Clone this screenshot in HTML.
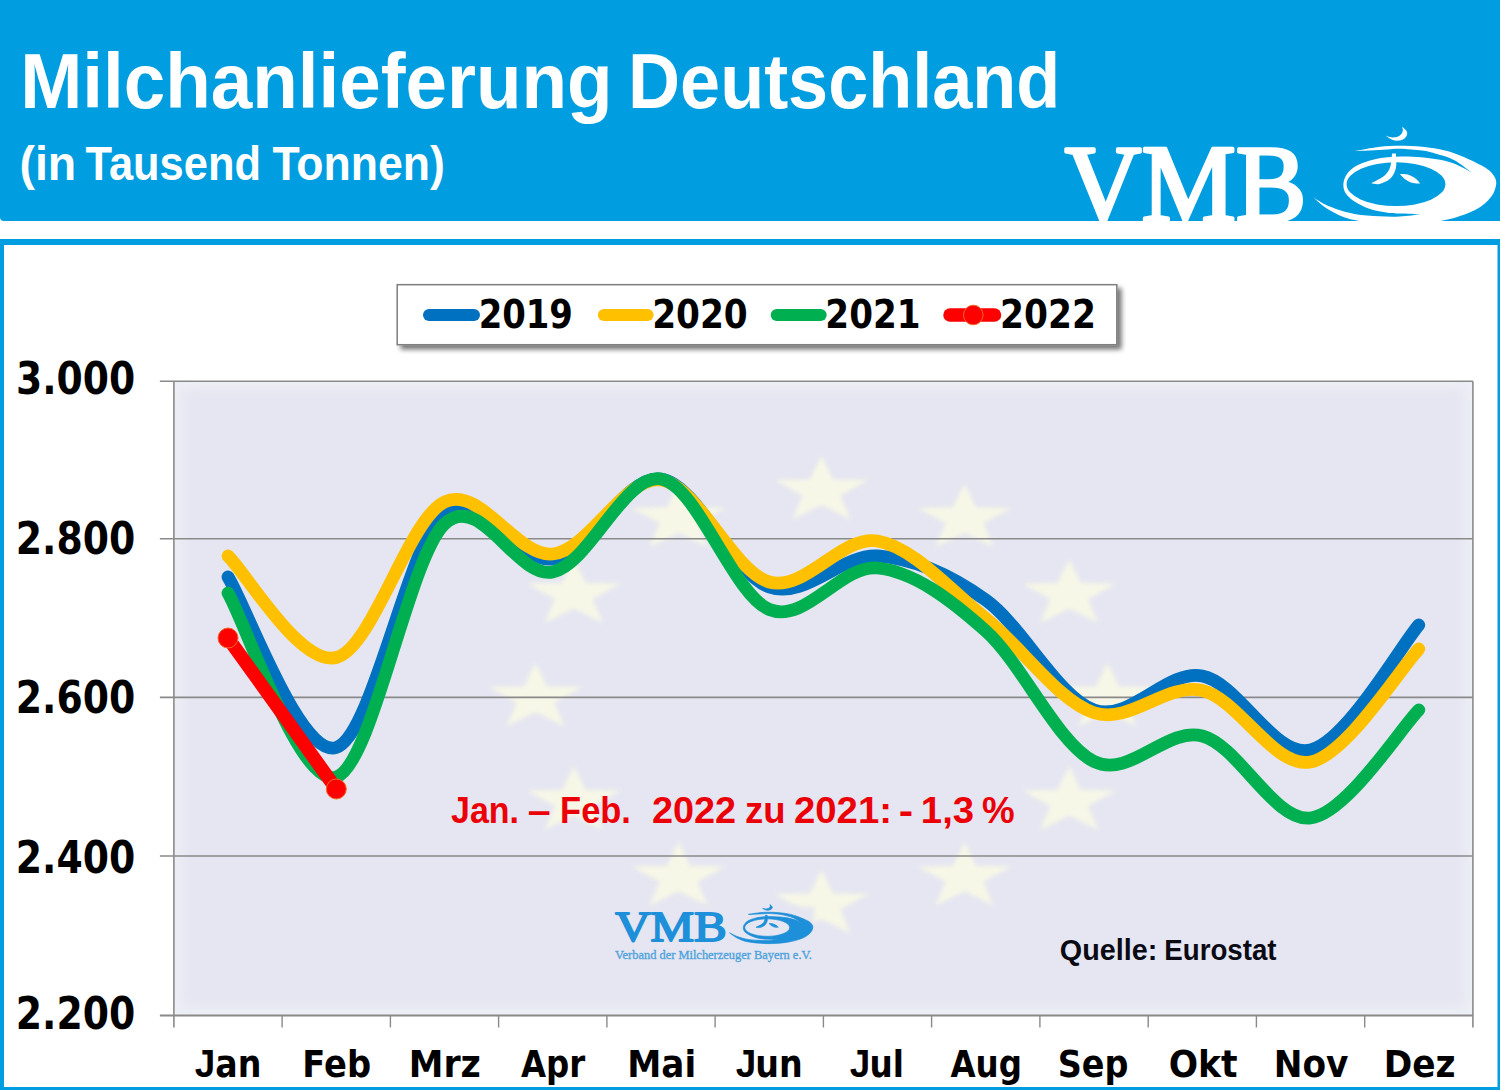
<!DOCTYPE html>
<html lang="de"><head><meta charset="utf-8"><title>Milchanlieferung Deutschland</title>
<style>html,body{margin:0;padding:0;background:#fff;}body{width:1500px;height:1090px;overflow:hidden;}svg{display:block;}text{white-space:pre;}</style>
</head><body>
<svg width="1500" height="1090" viewBox="0 0 1500 1090">
<defs>
<filter id="sh" x="-5%" y="-20%" width="112%" height="150%"><feGaussianBlur in="SourceAlpha" stdDeviation="2.5"/><feOffset dx="4" dy="4"/><feComponentTransfer><feFuncA type="linear" slope="0.55"/></feComponentTransfer><feMerge><feMergeNode/><feMergeNode in="SourceGraphic"/></feMerge></filter>
<filter id="soft" x="-10%" y="-10%" width="120%" height="120%"><feGaussianBlur stdDeviation="2.2"/></filter>
<filter id="edge" x="-3%" y="-5%" width="106%" height="110%"><feGaussianBlur stdDeviation="6"/></filter>
<clipPath id="hdrclip"><rect x="0" y="0" width="1500" height="221"/></clipPath>
<clipPath id="plotclip"><rect x="173.9" y="381.2" width="1299" height="634.3"/></clipPath>
</defs>
<rect x="0" y="0" width="1500" height="1090" fill="#fff"/>
<path d="M0,0 H1500 V221 H4 Q0,221 0,217 Z" fill="#009EE0"/>
<text y="108" font-family="'Liberation Sans','DejaVu Sans',sans-serif" font-weight="700" font-size="77" fill="#fff"><tspan x="20.16" textLength="592.49" lengthAdjust="spacingAndGlyphs">Milchanlieferung</tspan> <tspan x="628.12" textLength="432.12" lengthAdjust="spacingAndGlyphs">Deutschland</tspan></text>
<text y="180" font-family="'Liberation Sans','DejaVu Sans',sans-serif" font-weight="700" font-size="48" fill="#fff"><tspan x="19.47" textLength="56.69" lengthAdjust="spacingAndGlyphs">(in</tspan> <tspan x="85.60" textLength="175.35" lengthAdjust="spacingAndGlyphs">Tausend</tspan> <tspan x="272.47" textLength="172.25" lengthAdjust="spacingAndGlyphs">Tonnen)</tspan></text>
<g clip-path="url(#hdrclip)">
<text x="1064.79" y="221" font-family="'Liberation Serif','DejaVu Serif',serif" font-weight="400" font-size="111" fill="#fff" textLength="241.70" lengthAdjust="spacingAndGlyphs" stroke="#fff" stroke-width="3.5" stroke-linejoin="round">VMB</text>
</g>
<g clip-path="url(#hdrclip)"><g fill="#fff"><path fill-rule="evenodd" d="M1354.5,151.1 C1357.9,150.5 1368.2,148.4 1375,147.5 C1381.8,146.6 1387.1,145.9 1395,145.8 C1402.9,145.7 1413.9,145.9 1422.2,146.7 C1430.5,147.5 1438,148.8 1445,150.5 C1452,152.2 1457.7,154.3 1464.4,157.2 C1471.2,160.1 1480.6,164.7 1485.5,167.8 C1490.4,170.9 1492.2,173.2 1494,176 C1495.8,178.8 1496.6,181.1 1496.1,184.7 C1495.6,188.2 1494.3,193.1 1490.8,197.3 C1487.3,201.5 1483,206.1 1475,210 C1467,213.9 1455.5,218.1 1443,220.5 C1430.5,222.9 1414.8,224.6 1400,224.5 C1385.2,224.4 1366.2,222.5 1354.5,220.1 C1342.8,217.7 1336.7,214 1329.8,210.2 C1322.9,206.4 1316,199.5 1313.3,197.4 C1316,198.9 1322.9,203.7 1329.8,206.5 C1336.7,209.3 1346.2,212.4 1354.5,214 C1362.8,215.6 1371.7,215.9 1379.3,216.3 C1386.9,216.7 1393.1,216.8 1400,216.5 C1406.9,216.2 1417.2,214.7 1420.6,214.3 C1417.2,214.2 1405.5,213.8 1400,213.5 C1394.5,213.2 1392.6,213.4 1387.6,212.7 C1382.6,211.9 1375.5,210.9 1370,209 C1364.5,207.1 1358.6,204.2 1354.5,201.5 C1350.4,198.8 1347.3,195.9 1345.5,193 C1343.7,190.1 1343.2,187 1343.4,183.8 C1343.7,180.6 1344.9,177 1347,174 C1349.1,171 1352.2,168.2 1356,166 C1359.8,163.8 1364.7,161.9 1370,160.5 C1375.3,159.1 1380.6,157.9 1387.6,157.3 C1394.5,156.7 1403.8,156.4 1411.7,156.7 C1419.6,157 1428,157.9 1435,159 C1442,160.1 1447.8,161.2 1453.9,163.5 C1460,165.8 1468.8,171 1471.8,172.5 C1468.8,170.4 1460,163.1 1453.9,159.9 C1447.8,156.7 1440.3,155.1 1435,153.5 C1429.7,151.9 1428,151.4 1422.2,150.6 C1416.4,149.8 1405.8,149 1400,148.8 C1394.2,148.6 1392.6,149.2 1387.6,149.5 C1382.6,149.8 1375.5,150.3 1370,150.6 C1364.5,150.9 1357.1,151 1354.5,151.1 Z M1346.6,184.2 A49.4,21.9 0 1,0 1445.4,184.2 A49.4,21.9 0 1,0 1346.6,184.2 Z"/><path d="M1395.9,153.4 C1396,155.2 1396.5,161.5 1396.3,164.4 C1396.1,167.3 1395.8,168.7 1395,170.9 C1394.2,173.1 1392.8,175.6 1391.3,177.4 C1389.8,179.2 1388,180.5 1385.9,181.6 C1383.8,182.7 1380.9,183.9 1378.5,184.2 C1376.1,184.5 1372.5,183.5 1371.3,183.3 C1372.4,182.7 1375.7,181 1377.8,179.8 C1379.9,178.6 1382.3,177.4 1384.1,175.9 C1385.9,174.4 1387.4,172.6 1388.5,170.7 C1389.6,168.8 1390.2,167.3 1390.8,164.4 C1391.4,161.5 1391.9,155.2 1392.1,153.4 Z"/><path d="M1399.9,173.9 C1401.2,174 1405.1,173.8 1407.7,174.6 C1410.3,175.4 1413.4,177 1415.5,178.5 C1417.6,180 1419.4,182.6 1420.2,183.4 C1419,183.3 1415.3,183.7 1412.9,183.1 C1410.5,182.5 1408,181.3 1405.8,179.8 C1403.6,178.3 1400.9,174.9 1399.9,173.9 Z"/><path d="M1401.9,126.4 C1402.6,127.1 1405.3,129.2 1406.2,130.6 C1407.1,131.9 1407.4,133.2 1407.1,134.5 C1406.8,135.8 1405.9,137.4 1404.5,138.4 C1403.1,139.4 1400.7,140.4 1398.6,140.6 C1396.5,140.8 1394.2,140.5 1392.1,139.7 C1390,138.9 1386.9,136.5 1385.9,135.8 C1386.9,136.1 1390.1,137.3 1392.1,137.4 C1394.1,137.5 1396.4,137.2 1398,136.5 C1399.6,135.8 1401.1,134.3 1401.9,133.2 C1402.7,132 1402.8,130.7 1402.8,129.6 C1402.8,128.5 1402.1,126.9 1401.9,126.4 Z"/></g></g>
<rect x="0" y="239" width="1500" height="6" fill="#009EE0"/>
<rect x="0" y="239" width="4" height="851" fill="#009EE0"/>
<rect x="1497.5" y="239" width="2.5" height="851" fill="#009EE0"/>
<rect x="0" y="1087" width="1500" height="3" fill="#009EE0"/>
<rect x="173.9" y="381.2" width="1299" height="634.3" fill="#EEF0F6"/>
<g clip-path="url(#plotclip)"><rect x="180.9" y="388.2" width="1285" height="620.3" fill="#E5E6F1" filter="url(#edge)"/></g>
<g fill="#FAFAE5" opacity="0.85" filter="url(#soft)" clip-path="url(#plotclip)"><polygon points="821.5,455.8 833.1,479.6 868.6,480.1 840.3,495.4 850.6,519.5 821.5,505.1 792.4,519.5 802.7,495.4 774.4,480.1 809.9,479.6"/><polygon points="964.5,483.5 976.1,507.3 1011.6,507.9 983.3,523.1 993.6,547.2 964.5,532.8 935.4,547.2 945.7,523.1 917.4,507.9 952.9,507.3"/><polygon points="1069.2,559.3 1080.8,583.1 1116.3,583.6 1088,598.9 1098.3,623 1069.2,608.6 1040.1,623 1050.4,598.9 1022.1,583.6 1057.5,583.1"/><polygon points="1107.5,662.8 1119.1,686.6 1154.6,687.1 1126.3,702.4 1136.6,726.5 1107.5,712.1 1078.4,726.5 1088.7,702.4 1060.4,687.1 1095.9,686.6"/><polygon points="1069.2,766.3 1080.8,790.1 1116.3,790.6 1088,805.9 1098.3,830 1069.2,815.6 1040.1,830 1050.4,805.9 1022.1,790.6 1057.5,790.1"/><polygon points="964.5,842.1 976.1,865.9 1011.6,866.4 983.3,881.6 993.6,905.7 964.5,891.3 935.4,905.7 945.7,881.6 917.4,866.4 952.9,865.9"/><polygon points="821.5,869.8 833.1,893.6 868.6,894.1 840.3,909.4 850.6,933.5 821.5,919.1 792.4,933.5 802.7,909.4 774.4,894.1 809.9,893.6"/><polygon points="678.5,842.1 690.1,865.9 725.6,866.4 697.3,881.6 707.6,905.7 678.5,891.3 649.4,905.7 659.7,881.6 631.4,866.4 666.9,865.9"/><polygon points="573.8,766.3 585.5,790.1 620.9,790.6 592.6,805.9 602.9,830 573.8,815.6 544.7,830 555,805.9 526.7,790.6 562.2,790.1"/><polygon points="535.5,662.8 547.1,686.6 582.6,687.1 554.3,702.4 564.6,726.5 535.5,712.1 506.4,726.5 516.7,702.4 488.4,687.1 523.9,686.6"/><polygon points="573.8,559.3 585.5,583.1 620.9,583.6 592.6,598.9 602.9,623 573.8,608.6 544.7,623 555,598.9 526.7,583.6 562.2,583.1"/><polygon points="678.5,483.5 690.1,507.3 725.6,507.9 697.3,523.1 707.6,547.2 678.5,532.8 649.4,547.2 659.7,523.1 631.4,507.9 666.9,507.3"/></g>
<line x1="159.9" y1="381.2" x2="1472.9" y2="381.2" stroke="#8A8A8A" stroke-width="1.6"/>
<line x1="159.9" y1="538.7" x2="1472.9" y2="538.7" stroke="#8A8A8A" stroke-width="1.6"/>
<line x1="159.9" y1="697.4" x2="1472.9" y2="697.4" stroke="#8A8A8A" stroke-width="1.6"/>
<line x1="159.9" y1="856" x2="1472.9" y2="856" stroke="#8A8A8A" stroke-width="1.6"/>
<line x1="159.9" y1="1015.5" x2="1472.9" y2="1015.5" stroke="#8A8A8A" stroke-width="2"/>
<line x1="173.9" y1="381.2" x2="173.9" y2="1027.5" stroke="#8A8A8A" stroke-width="1.6"/>
<line x1="1472.9" y1="381.2" x2="1472.9" y2="1027.5" stroke="#8A8A8A" stroke-width="1.6"/>
<line x1="282.1" y1="1015.5" x2="282.1" y2="1027.5" stroke="#8A8A8A" stroke-width="1.4"/>
<line x1="390.4" y1="1015.5" x2="390.4" y2="1027.5" stroke="#8A8A8A" stroke-width="1.4"/>
<line x1="498.6" y1="1015.5" x2="498.6" y2="1027.5" stroke="#8A8A8A" stroke-width="1.4"/>
<line x1="606.9" y1="1015.5" x2="606.9" y2="1027.5" stroke="#8A8A8A" stroke-width="1.4"/>
<line x1="715.1" y1="1015.5" x2="715.1" y2="1027.5" stroke="#8A8A8A" stroke-width="1.4"/>
<line x1="823.4" y1="1015.5" x2="823.4" y2="1027.5" stroke="#8A8A8A" stroke-width="1.4"/>
<line x1="931.6" y1="1015.5" x2="931.6" y2="1027.5" stroke="#8A8A8A" stroke-width="1.4"/>
<line x1="1039.9" y1="1015.5" x2="1039.9" y2="1027.5" stroke="#8A8A8A" stroke-width="1.4"/>
<line x1="1148.2" y1="1015.5" x2="1148.2" y2="1027.5" stroke="#8A8A8A" stroke-width="1.4"/>
<line x1="1256.4" y1="1015.5" x2="1256.4" y2="1027.5" stroke="#8A8A8A" stroke-width="1.4"/>
<line x1="1364.7" y1="1015.5" x2="1364.7" y2="1027.5" stroke="#8A8A8A" stroke-width="1.4"/>
<text x="16.06" y="394.4" font-family="'DejaVu Sans','Liberation Sans',sans-serif" font-weight="700" font-size="44.5" fill="#000" textLength="119.24" lengthAdjust="spacingAndGlyphs">3.000</text>
<text x="15.80" y="553.9" font-family="'DejaVu Sans','Liberation Sans',sans-serif" font-weight="700" font-size="44.5" fill="#000" textLength="119.49" lengthAdjust="spacingAndGlyphs">2.800</text>
<text x="15.80" y="713.1" font-family="'DejaVu Sans','Liberation Sans',sans-serif" font-weight="700" font-size="44.5" fill="#000" textLength="119.49" lengthAdjust="spacingAndGlyphs">2.600</text>
<text x="15.80" y="872.6" font-family="'DejaVu Sans','Liberation Sans',sans-serif" font-weight="700" font-size="44.5" fill="#000" textLength="119.49" lengthAdjust="spacingAndGlyphs">2.400</text>
<text x="15.80" y="1028.8" font-family="'DejaVu Sans','Liberation Sans',sans-serif" font-weight="700" font-size="44.5" fill="#000" textLength="119.49" lengthAdjust="spacingAndGlyphs">2.200</text>
<text y="1076.8" font-weight="700" fill="#000"><tspan x="194.86" font-family="'Liberation Sans','DejaVu Sans',sans-serif" font-size="39" textLength="20.50" lengthAdjust="spacingAndGlyphs">J</tspan><tspan x="215.23" font-family="'DejaVu Sans','Liberation Sans',sans-serif" font-size="37.7" textLength="46.15" lengthAdjust="spacingAndGlyphs">an</tspan></text>
<text x="302.31" y="1076.8" font-family="'DejaVu Sans','Liberation Sans',sans-serif" font-weight="700" font-size="37.7" fill="#000" textLength="68.77" lengthAdjust="spacingAndGlyphs">Feb</text>
<text x="408.73" y="1076.8" font-family="'DejaVu Sans','Liberation Sans',sans-serif" font-weight="700" font-size="37.7" fill="#000" textLength="72.15" lengthAdjust="spacingAndGlyphs">Mrz</text>
<text x="521.00" y="1076.8" font-family="'DejaVu Sans','Liberation Sans',sans-serif" font-weight="700" font-size="37.7" fill="#000" textLength="64.27" lengthAdjust="spacingAndGlyphs">Apr</text>
<text x="627.27" y="1076.8" font-family="'DejaVu Sans','Liberation Sans',sans-serif" font-weight="700" font-size="37.7" fill="#000" textLength="68.92" lengthAdjust="spacingAndGlyphs">Mai</text>
<text y="1076.8" font-weight="700" fill="#000"><tspan x="735.86" font-family="'Liberation Sans','DejaVu Sans',sans-serif" font-size="39" textLength="20.50" lengthAdjust="spacingAndGlyphs">J</tspan><tspan x="755.35" font-family="'DejaVu Sans','Liberation Sans',sans-serif" font-size="37.7" textLength="47.41" lengthAdjust="spacingAndGlyphs">un</tspan></text>
<text y="1076.8" font-weight="700" fill="#000"><tspan x="849.86" font-family="'Liberation Sans','DejaVu Sans',sans-serif" font-size="39" textLength="20.50" lengthAdjust="spacingAndGlyphs">J</tspan><tspan x="869.40" font-family="'DejaVu Sans','Liberation Sans',sans-serif" font-size="37.7" textLength="34.49" lengthAdjust="spacingAndGlyphs">ul</tspan></text>
<text x="950.40" y="1076.8" font-family="'DejaVu Sans','Liberation Sans',sans-serif" font-weight="700" font-size="37.7" fill="#000" textLength="71.57" lengthAdjust="spacingAndGlyphs">Aug</text>
<text x="1057.74" y="1076.8" font-family="'DejaVu Sans','Liberation Sans',sans-serif" font-weight="700" font-size="37.7" fill="#000" textLength="70.76" lengthAdjust="spacingAndGlyphs">Sep</text>
<text x="1168.67" y="1076.8" font-family="'DejaVu Sans','Liberation Sans',sans-serif" font-weight="700" font-size="37.7" fill="#000" textLength="68.86" lengthAdjust="spacingAndGlyphs">Okt</text>
<text x="1273.67" y="1076.8" font-family="'DejaVu Sans','Liberation Sans',sans-serif" font-weight="700" font-size="37.7" fill="#000" textLength="74.75" lengthAdjust="spacingAndGlyphs">Nov</text>
<text x="1383.76" y="1076.8" font-family="'DejaVu Sans','Liberation Sans',sans-serif" font-weight="700" font-size="37.7" fill="#000" textLength="71.86" lengthAdjust="spacingAndGlyphs">Dez</text>
<rect x="612" y="907" width="202" height="56" fill="#E5E6F1" filter="url(#soft)"/>
<text x="615.17" y="941.4" font-family="'Liberation Serif','DejaVu Serif',serif" font-weight="400" font-size="43.2" fill="#1E8FD9" textLength="111.67" lengthAdjust="spacingAndGlyphs" stroke="#1E8FD9" stroke-width="1.8" stroke-linejoin="round">VMB</text>
<g><g transform="translate(131.9,854.2) scale(0.4551,0.3984)" fill="#1E8FD9" stroke="#1E8FD9" stroke-width="1.6" stroke-linejoin="round"><path fill-rule="evenodd" d="M1354.5,151.1 C1357.9,150.5 1368.2,148.4 1375,147.5 C1381.8,146.6 1387.1,145.9 1395,145.8 C1402.9,145.7 1413.9,145.9 1422.2,146.7 C1430.5,147.5 1438,148.8 1445,150.5 C1452,152.2 1457.7,154.3 1464.4,157.2 C1471.2,160.1 1480.6,164.7 1485.5,167.8 C1490.4,170.9 1492.2,173.2 1494,176 C1495.8,178.8 1496.6,181.1 1496.1,184.7 C1495.6,188.2 1494.3,193.1 1490.8,197.3 C1487.3,201.5 1483,206.1 1475,210 C1467,213.9 1455.5,218.1 1443,220.5 C1430.5,222.9 1414.8,224.6 1400,224.5 C1385.2,224.4 1366.2,222.5 1354.5,220.1 C1342.8,217.7 1336.7,214 1329.8,210.2 C1322.9,206.4 1316,199.5 1313.3,197.4 C1316,198.9 1322.9,203.7 1329.8,206.5 C1336.7,209.3 1346.2,212.4 1354.5,214 C1362.8,215.6 1371.7,215.9 1379.3,216.3 C1386.9,216.7 1393.1,216.8 1400,216.5 C1406.9,216.2 1417.2,214.7 1420.6,214.3 C1417.2,214.2 1405.5,213.8 1400,213.5 C1394.5,213.2 1392.6,213.4 1387.6,212.7 C1382.6,211.9 1375.5,210.9 1370,209 C1364.5,207.1 1358.6,204.2 1354.5,201.5 C1350.4,198.8 1347.3,195.9 1345.5,193 C1343.7,190.1 1343.2,187 1343.4,183.8 C1343.7,180.6 1344.9,177 1347,174 C1349.1,171 1352.2,168.2 1356,166 C1359.8,163.8 1364.7,161.9 1370,160.5 C1375.3,159.1 1380.6,157.9 1387.6,157.3 C1394.5,156.7 1403.8,156.4 1411.7,156.7 C1419.6,157 1428,157.9 1435,159 C1442,160.1 1447.8,161.2 1453.9,163.5 C1460,165.8 1468.8,171 1471.8,172.5 C1468.8,170.4 1460,163.1 1453.9,159.9 C1447.8,156.7 1440.3,155.1 1435,153.5 C1429.7,151.9 1428,151.4 1422.2,150.6 C1416.4,149.8 1405.8,149 1400,148.8 C1394.2,148.6 1392.6,149.2 1387.6,149.5 C1382.6,149.8 1375.5,150.3 1370,150.6 C1364.5,150.9 1357.1,151 1354.5,151.1 Z M1346.6,184.2 A49.4,21.9 0 1,0 1445.4,184.2 A49.4,21.9 0 1,0 1346.6,184.2 Z"/><path d="M1395.9,153.4 C1396,155.2 1396.5,161.5 1396.3,164.4 C1396.1,167.3 1395.8,168.7 1395,170.9 C1394.2,173.1 1392.8,175.6 1391.3,177.4 C1389.8,179.2 1388,180.5 1385.9,181.6 C1383.8,182.7 1380.9,183.9 1378.5,184.2 C1376.1,184.5 1372.5,183.5 1371.3,183.3 C1372.4,182.7 1375.7,181 1377.8,179.8 C1379.9,178.6 1382.3,177.4 1384.1,175.9 C1385.9,174.4 1387.4,172.6 1388.5,170.7 C1389.6,168.8 1390.2,167.3 1390.8,164.4 C1391.4,161.5 1391.9,155.2 1392.1,153.4 Z"/><path d="M1399.9,173.9 C1401.2,174 1405.1,173.8 1407.7,174.6 C1410.3,175.4 1413.4,177 1415.5,178.5 C1417.6,180 1419.4,182.6 1420.2,183.4 C1419,183.3 1415.3,183.7 1412.9,183.1 C1410.5,182.5 1408,181.3 1405.8,179.8 C1403.6,178.3 1400.9,174.9 1399.9,173.9 Z"/><path d="M1401.9,126.4 C1402.6,127.1 1405.3,129.2 1406.2,130.6 C1407.1,131.9 1407.4,133.2 1407.1,134.5 C1406.8,135.8 1405.9,137.4 1404.5,138.4 C1403.1,139.4 1400.7,140.4 1398.6,140.6 C1396.5,140.8 1394.2,140.5 1392.1,139.7 C1390,138.9 1386.9,136.5 1385.9,135.8 C1386.9,136.1 1390.1,137.3 1392.1,137.4 C1394.1,137.5 1396.4,137.2 1398,136.5 C1399.6,135.8 1401.1,134.3 1401.9,133.2 C1402.7,132 1402.8,130.7 1402.8,129.6 C1402.8,128.5 1402.1,126.9 1401.9,126.4 Z"/></g></g>
<text x="615.01" y="958.7" font-family="'Liberation Serif','DejaVu Serif',serif" font-weight="400" font-size="12.6" fill="#4FA3DD" textLength="196.97" lengthAdjust="spacingAndGlyphs" stroke="#4FA3DD" stroke-width="0.35">Verband der Milcherzeuger Bayern e.V.</text>
<path d="M228,577 C246.1,605.4 300.2,758.6 336.3,747.5 C372.4,736.4 408.4,541.9 444.5,510.5 C480.6,479.1 516.7,564.2 552.8,559 C588.9,553.8 624.9,474.3 661,479 C697.1,483.7 733.2,574.2 769.3,587 C805.4,599.8 841.4,553.8 877.5,556 C913.6,558.2 949.7,574.3 985.8,600 C1021.9,625.7 1057.9,697.3 1094,710 C1130.1,722.7 1166.2,669.3 1202.3,676 C1238.4,682.7 1274.4,758.5 1310.5,750 C1346.6,741.5 1400.7,645.8 1418.8,625" fill="none" stroke="#0070C0" stroke-width="12.8" stroke-linecap="round" stroke-linejoin="round"/>
<path d="M228,556 C246.1,572.9 300.2,666.5 336.3,657.5 C372.4,648.5 408.4,519.2 444.5,502 C480.6,484.8 516.7,557.7 552.8,554 C588.9,550.3 624.9,475.3 661,480 C697.1,484.7 733.2,571.8 769.3,582 C805.4,592.2 841.4,534.9 877.5,541 C913.6,547.1 949.7,589.9 985.8,618.5 C1021.9,647.1 1057.9,700.7 1094,712.7 C1130.1,724.7 1166.2,682.3 1202.3,690.5 C1238.4,698.7 1274.4,768.9 1310.5,762 C1346.6,755.1 1400.7,667.8 1418.8,649" fill="none" stroke="#FFC000" stroke-width="12.8" stroke-linecap="round" stroke-linejoin="round"/>
<path d="M228,593 C246.1,623.7 300.2,788.5 336.3,777 C372.4,765.5 408.4,558.2 444.5,524 C480.6,489.8 516.7,579.5 552.8,572 C588.9,564.5 624.9,472.8 661,479 C697.1,485.2 733.2,594.7 769.3,609.5 C805.4,624.3 841.4,564.4 877.5,568 C913.6,571.6 949.7,598.8 985.8,631 C1021.9,663.2 1057.9,744 1094,761.5 C1130.1,779 1166.2,726.6 1202.3,736 C1238.4,745.4 1274.4,822.3 1310.5,818 C1346.6,813.7 1400.7,728 1418.8,710" fill="none" stroke="#00B050" stroke-width="12.8" stroke-linecap="round" stroke-linejoin="round"/>
<line x1="228" y1="638" x2="336.3" y2="789" stroke="#FF0000" stroke-width="13.5" stroke-linecap="round"/>
<circle cx="228" cy="638" r="10" fill="#FF0000" stroke="#F0682A" stroke-width="1"/>
<circle cx="336.3" cy="789" r="10" fill="#FF0000" stroke="#F0682A" stroke-width="1"/>
<text y="822.7" font-family="'Liberation Sans','DejaVu Sans',sans-serif" font-weight="700" font-size="36" fill="#EC0008"><tspan x="451.06" textLength="67.87" lengthAdjust="spacingAndGlyphs">Jan.</tspan> <tspan x="527.86" textLength="22.92" lengthAdjust="spacingAndGlyphs">–</tspan> <tspan x="560.09" textLength="70.84" lengthAdjust="spacingAndGlyphs">Feb.</tspan>  <tspan x="651.95" textLength="84.20" lengthAdjust="spacingAndGlyphs">2022</tspan> <tspan x="744.99" textLength="40.54" lengthAdjust="spacingAndGlyphs">zu</tspan> <tspan x="793.94" textLength="98.04" lengthAdjust="spacingAndGlyphs">2021:</tspan> <tspan x="898.80" textLength="14.40" lengthAdjust="spacingAndGlyphs">-</tspan> <tspan x="920.87" textLength="53.24" lengthAdjust="spacingAndGlyphs">1,3</tspan> <tspan x="981.98" textLength="32.66" lengthAdjust="spacingAndGlyphs">%</tspan></text>
<text y="960.2" font-family="'Liberation Sans','DejaVu Sans',sans-serif" font-weight="700" font-size="29" fill="#0a0a14"><tspan x="1059.81" textLength="97.48" lengthAdjust="spacingAndGlyphs">Quelle:</tspan> <tspan x="1164.29" textLength="112.32" lengthAdjust="spacingAndGlyphs">Eurostat</tspan></text>
<rect x="397.2" y="284.7" width="719.6" height="60" fill="#fff" stroke="#7F7F7F" stroke-width="1.5" filter="url(#sh)"/>
<line x1="429" y1="315" x2="474" y2="315" stroke="#0070C0" stroke-width="12" stroke-linecap="round"/>
<text x="478.65" y="327.8" font-family="'DejaVu Sans','Liberation Sans',sans-serif" font-weight="700" font-size="38.4" fill="#000" textLength="94.29" lengthAdjust="spacingAndGlyphs">2019</text>
<line x1="603.9" y1="315" x2="647.6" y2="315" stroke="#FFC000" stroke-width="12" stroke-linecap="round"/>
<text x="652.22" y="327.8" font-family="'DejaVu Sans','Liberation Sans',sans-serif" font-weight="700" font-size="38.4" fill="#000" textLength="95.54" lengthAdjust="spacingAndGlyphs">2020</text>
<line x1="776.7" y1="315" x2="820.7" y2="315" stroke="#00B050" stroke-width="12" stroke-linecap="round"/>
<text x="825.33" y="327.8" font-family="'DejaVu Sans','Liberation Sans',sans-serif" font-weight="700" font-size="38.4" fill="#000" textLength="95.22" lengthAdjust="spacingAndGlyphs">2021</text>
<line x1="950" y1="315" x2="994.5" y2="315" stroke="#FF0000" stroke-width="13.5" stroke-linecap="round"/>
<circle cx="973.3" cy="315" r="9.8" fill="#FF0000" stroke="#F0682A" stroke-width="1"/>
<text x="1000.01" y="327.8" font-family="'DejaVu Sans','Liberation Sans',sans-serif" font-weight="700" font-size="38.4" fill="#000" textLength="95.86" lengthAdjust="spacingAndGlyphs">2022</text>
</svg>
</body></html>
